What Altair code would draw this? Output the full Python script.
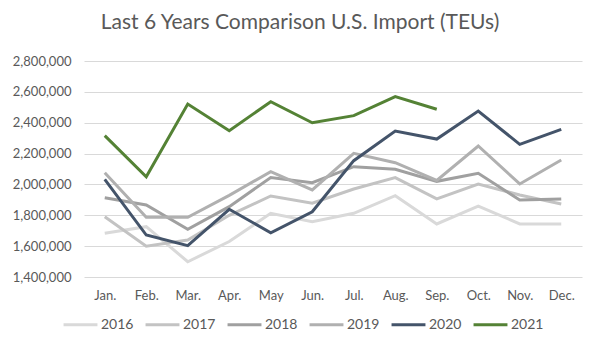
import altair as alt
import pandas as pd

months = ["Jan.", "Feb.", "Mar.", "Apr.", "May", "Jun.", "Jul.", "Aug.", "Sep.", "Oct.", "Nov.", "Dec."]
years = ["2016", "2017", "2018", "2019", "2020", "2021"]
colors = ["#d9d9d9", "#c3c3c3", "#a0a0a0", "#b0b0b0", "#44546a", "#548235"]

v2016 = [1683000, 1726000, 1499000, 1630000, 1813000, 1759000, 1813000, 1927000, 1744000, 1860000, 1744000, 1744000]
v2017 = [1791000, 1600000, 1640000, 1800000, 1925000, 1878000, 1970000, 2044000, 1906000, 2003000, 1932000, 1873000]
v2018 = [1914000, 1867000, 1709000, 1856000, 2045000, 2011000, 2115000, 2098000, 2020000, 2072000, 1899000, 1906000]
v2019 = [2076000, 1787000, 1787000, 1929000, 2083000, 1964000, 2202000, 2141000, 2026000, 2249000, 2003000, 2158000]
v2020 = [2033000, 1672000, 1603000, 1839000, 1687000, 1823000, 2154000, 2346000, 2294000, 2476000, 2260000, 2357000]
v2021 = [2316000, 2050000, 2521000, 2348000, 2536000, 2400000, 2446000, 2569000, 2487000]

series = [v2016, v2017, v2018, v2019, v2020, v2021]
rows = []
for i, (yr, vals) in enumerate(zip(years, series)):
    for m, v in zip(months, vals):
        rows.append({"Year": yr, "Month": m, "TEU": v, "order": i})
df = pd.DataFrame(rows)

FONT = "Lato"
TXT = "#595959"

chart = alt.Chart(df).mark_line(strokeWidth=3, strokeJoin="miter").encode(
    x=alt.X("Month:N", sort=months, title=None,
            scale=alt.Scale(type="point", padding=0.5),
            axis=alt.Axis(labelAngle=0, domain=False, ticks=False, labelPadding=12,
                          labelFontSize=13, labelColor=TXT, labelFont=FONT, grid=False)),
    y=alt.Y("TEU:Q", title=None,
            scale=alt.Scale(domain=[1400000, 2800000], nice=False, zero=False),
            axis=alt.Axis(values=list(range(1400000, 2800001, 200000)), format=",d",
                          domain=False, ticks=False, labelPadding=13,
                          labelFontSize=13, labelColor=TXT, labelFont=FONT,
                          gridColor="#d9d9d9", gridWidth=1)),
    color=alt.Color("Year:N", scale=alt.Scale(domain=years, range=colors),
                    legend=alt.Legend(title=None, orient="none", direction="horizontal",
                                      legendX=-22, legendY=245, columns=6,
                                      symbolType="stroke", symbolSize=1150, symbolStrokeWidth=3,
                                      labelFontSize=14, labelColor=TXT, labelFont=FONT,
                                      labelOffset=2, columnPadding=5)),
    order=alt.Order("order:Q"),
).properties(
    width=498,
    height=216,
    title=alt.TitleParams("Last 6 Years Comparison U.S. Import (TEUs)", fontSize=21,
                          font=FONT, fontWeight="normal", color=TXT, dx=-33, offset=22,
                          anchor="middle"),
    autosize=alt.AutoSizeParams(type="none"),
    padding={"left": 84, "top": 61, "right": 18, "bottom": 77},
).configure_view(stroke=None)

chart.save("out.html", embed_options={"renderer": "svg", "actions": False})
